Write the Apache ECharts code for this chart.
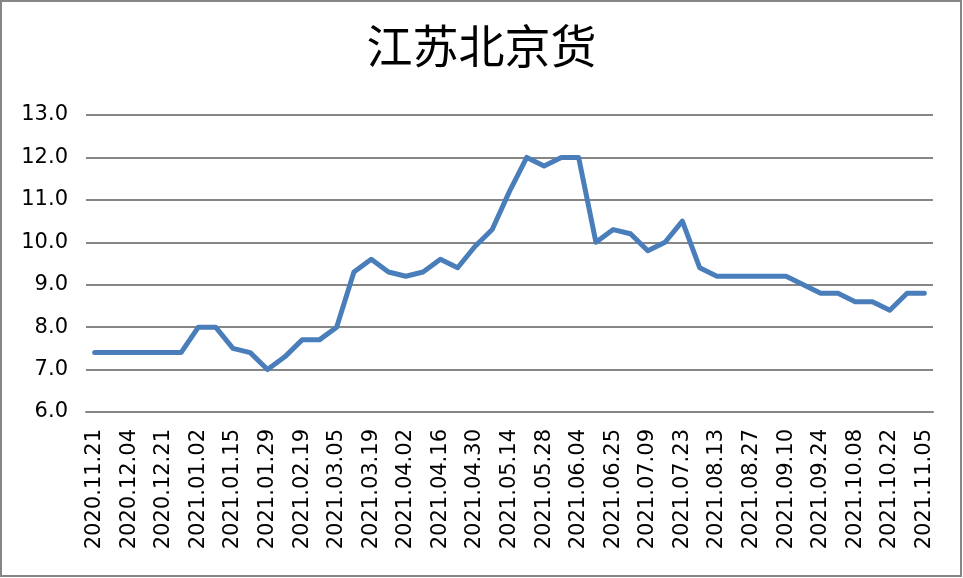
<!DOCTYPE html>
<html>
<head>
<meta charset="utf-8">
<script src="https://cdn.jsdelivr.net/npm/echarts@6/dist/echarts.min.js"></script>
<style>
html,body{margin:0;padding:0;background:#fff;}
#c{width:963px;height:578px;}
</style>
</head>
<body>
<div id="c"></div>
<script>
var titleText = '江苏北京货';
var categories = [
  '2020.11.21','2020.11.27','2020.12.04','2020.12.11','2020.12.21','2020.12.25',
  '2021.01.02','2021.01.08','2021.01.15','2021.01.22','2021.01.29','2021.02.05',
  '2021.02.19','2021.02.26','2021.03.05','2021.03.12','2021.03.19','2021.03.26',
  '2021.04.02','2021.04.09','2021.04.16','2021.04.23','2021.04.30','2021.05.07',
  '2021.05.14','2021.05.21','2021.05.28','2021.06.01','2021.06.04','2021.06.11',
  '2021.06.25','2021.07.02','2021.07.09','2021.07.16','2021.07.23','2021.08.06',
  '2021.08.13','2021.08.20','2021.08.27','2021.09.03','2021.09.10','2021.09.17',
  '2021.09.24','2021.10.01','2021.10.08','2021.10.15','2021.10.22','2021.10.29',
  '2021.11.05'
];
var values = [
  7.4,7.4,7.4,7.4,7.4,7.4,
  8.0,8.0,7.5,7.4,7.0,7.3,
  7.7,7.7,8.0,9.3,9.6,9.3,
  9.2,9.3,9.6,9.4,9.9,10.3,
  11.2,12.0,11.8,12.0,12.0,10.0,
  10.3,10.2,9.8,10.0,10.5,9.4,
  9.2,9.2,9.2,9.2,9.2,9.0,
  8.8,8.8,8.6,8.6,8.4,8.8,
  8.8
];
var yMin = 6, yMax = 13, yStep = 1;

var chart = echarts.init(document.getElementById('c'), null, {renderer:'canvas'});
chart.setOption({
  backgroundColor:'#ffffff',
  animation:false,
  title:{
    text:titleText, left:'center', top:18,
    textStyle:{fontFamily:'Noto Sans CJK SC', fontSize:46, fontWeight:'normal', color:'#000'}
  },
  graphic:[{
    type:'rect', shape:{x:1,y:1,width:960,height:575},
    style:{fill:'none', stroke:'#868686', lineWidth:2}, silent:true
  }],
  grid:{left:86, right:30, top:115, bottom:166},
  xAxis:{
    type:'category', data:categories, boundaryGap:true,
    axisLine:{show:true, lineStyle:{color:'#868686', width:2}},
    axisTick:{show:false},
    axisLabel:{interval:1, rotate:90, margin:17, color:'#000',
      fontFamily:'DejaVu Sans', fontSize:21}
  },
  yAxis:{
    type:'value', min:yMin, max:yMax, interval:yStep,
    axisLine:{show:false}, axisTick:{show:false},
    splitLine:{lineStyle:{color:'#868686', width:2}},
    axisLabel:{margin:18, color:'#000', fontFamily:'DejaVu Sans', fontSize:21,
      formatter:function(v){return v.toFixed(1);}}
  },
  series:[{
    type:'line', data:values, showSymbol:false, symbol:'none',
    lineStyle:{color:'#4a7ebb', width:5, join:'round', cap:'round'},
    itemStyle:{color:'#4a7ebb'}
  }]
});
</script>
</body>
</html>
